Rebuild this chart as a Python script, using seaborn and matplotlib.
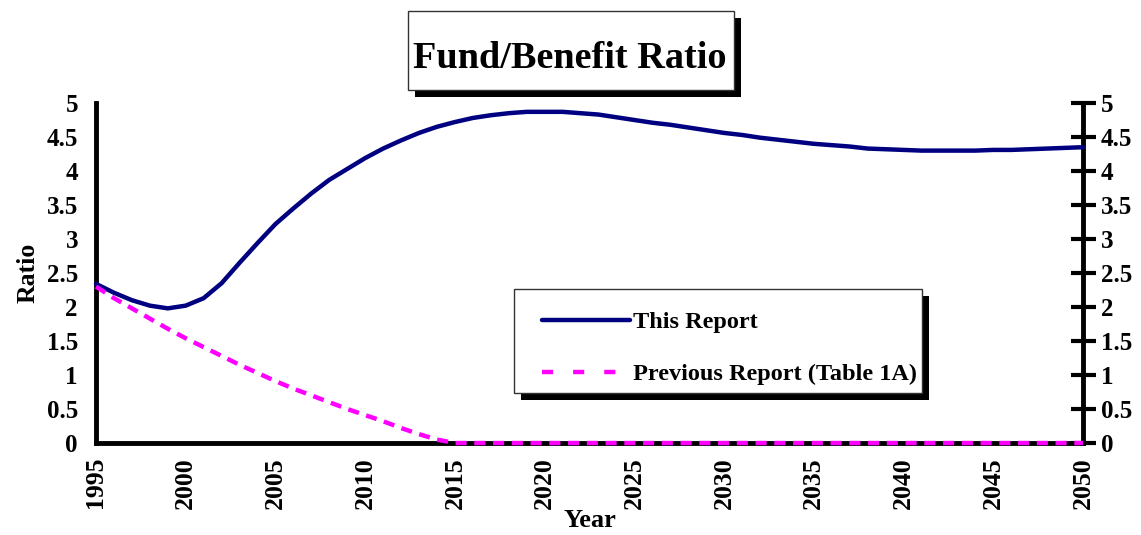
import numpy as np
import pandas as pd
import matplotlib
matplotlib.use("Agg")
import matplotlib.pyplot as plt
import matplotlib.patheffects as pe
from matplotlib.patches import Rectangle
from matplotlib.ticker import FuncFormatter
import seaborn as sns

# values
years = list(range(1995, 2051))
this_report = [2.34, 2.21, 2.10, 2.02, 1.98, 2.02, 2.13, 2.35, 2.65, 2.94,
               3.22, 3.45, 3.67, 3.87, 4.03, 4.19, 4.33, 4.45, 4.56, 4.65,
               4.72, 4.78, 4.82, 4.85, 4.87, 4.87, 4.87, 4.85, 4.83, 4.79,
               4.75, 4.71, 4.68, 4.64, 4.60, 4.56, 4.53, 4.49, 4.46, 4.43,
               4.40, 4.38, 4.36, 4.33, 4.32, 4.31, 4.30, 4.30, 4.30, 4.30,
               4.31, 4.31, 4.32, 4.33, 4.34, 4.35]
previous_report = [2.30, 2.13, 1.98, 1.83, 1.68, 1.54, 1.41, 1.28, 1.15, 1.03,
                   0.91, 0.80, 0.70, 0.60, 0.50, 0.41, 0.32, 0.22, 0.13, 0.05,
                   0.00, 0.00, 0.00, 0.00, 0.00, 0.00, 0.00, 0.00, 0.00, 0.00,
                   0.00, 0.00, 0.00, 0.00, 0.00, 0.00, 0.00, 0.00, 0.00, 0.00,
                   0.00, 0.00, 0.00, 0.00, 0.00, 0.00, 0.00, 0.00, 0.00, 0.00,
                   0.00, 0.00, 0.00, 0.00, 0.00, 0.00]
x_ticks = list(range(1995, 2051, 5))
y_ticks = [0, 0.5, 1, 1.5, 2, 2.5, 3, 3.5, 4, 4.5, 5]

df = pd.DataFrame({"Year": years, "This": this_report, "Prev": previous_report})

sns.set_style("white")
plt.rcParams['font.family'] = ['Liberation Serif', 'DejaVu Serif']
plt.rcParams['font.weight'] = 'bold'
plt.rcParams['lines.scale_dashes'] = False
for k in ['text.color', 'axes.labelcolor', 'xtick.color', 'ytick.color']:
    plt.rcParams[k] = 'black'

W, H = 1141, 535
fig = plt.figure(figsize=(W / 100, H / 100), dpi=100)
ax = fig.add_axes([96 / W, 1 - 443 / H, (1083 - 96) / W, (443 - 103) / H])

sns.lineplot(data=df, x="Year", y="This", color="#000080", lw=3.2, ax=ax,
             label="This Report", zorder=4, clip_on=False)
sns.lineplot(data=df, x="Year", y="Prev", color="#FF00FF", lw=3.2, ax=ax,
             label="Previous Report (Table 1A)", zorder=5, clip_on=False)
ax.lines[0].set_solid_joinstyle('round')
ax.lines[1].set_dashes((8, 5.5))

ax.set_xlim(1995, 2050)
ax.set_ylim(0, 5)
ax.set_xticks(x_ticks)
ax.set_yticks(y_ticks)
ax.yaxis.set_major_formatter(FuncFormatter(lambda v, p: f"{v:g}"))
ax.tick_params(direction='inout', length=18, width=3, labelsize=18,
               right=True, labelright=True, pad=4, colors='black')
ax.tick_params(axis='x', labelrotation=90, pad=1, labelsize=18.5)
ax.spines['top'].set_visible(False)
for s in ['left', 'right', 'bottom']:
    ax.spines[s].set_linewidth(3.5)
    ax.spines[s].set_color('black')
ax.set_ylabel("Ratio", fontsize=18.5, fontweight='bold', labelpad=5)
ax.set_xlabel("Year", fontsize=19, fontweight='bold', labelpad=0)

shadow = [pe.SimplePatchShadow(offset=(5, -5), shadow_rgbFace='black', alpha=1),
          pe.Normal()]

# title box
tbox = Rectangle((408 / W, 1 - 90 / H), 326 / W, 79 / H, transform=fig.transFigure,
                 facecolor='white', edgecolor='#333333', lw=1)
tbox.set_path_effects(shadow)
fig.add_artist(tbox)
fig.text(570 / W, 1 - 68 / H, "Fund/Benefit Ratio", ha='center', va='baseline',
         fontsize=27.5, fontweight='bold')

# legend box
lbox = Rectangle((514 / W, 1 - 393 / H), 408 / W, 104 / H, transform=fig.transFigure,
                 facecolor='white', edgecolor='#333333', lw=1, zorder=6)
lbox.set_path_effects(shadow)
ax.add_artist(lbox)
leg = ax.legend(loc='upper left', bbox_to_anchor=(542 / W, 1 - 311 / H),
                bbox_transform=fig.transFigure, frameon=False, borderpad=0,
                borderaxespad=0, handlelength=3.6, handletextpad=0.15,
                labelspacing=1.25, prop={'size': 17.5, 'weight': 'bold'})
leg.set_zorder(7)
leg.get_lines()[1].set_dashes((8, 14.4))

fig.savefig("out.png", dpi=100)
